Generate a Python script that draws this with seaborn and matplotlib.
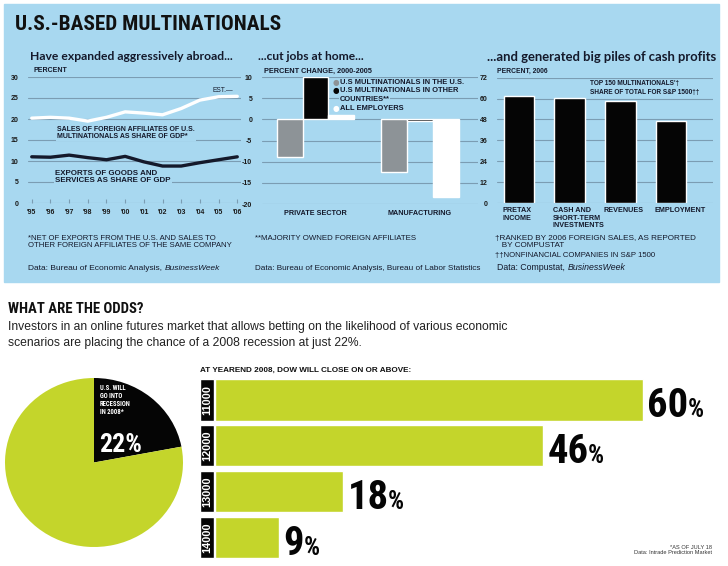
import seaborn as sns
import matplotlib.pyplot as plt
import matplotlib.patches as mpatches
import matplotlib.font_manager as fm
import pandas as pd

# ---- data ----
years = [1995, 1996, 1997, 1998, 1999, 2000, 2001, 2002, 2003, 2004, 2005, 2006]
year_labels = ["'95", "'96", "'97", "'98", "'99", "'00", "'01", "'02", "'03", "'04", "'05", "'06"]
sales_share = [20.2, 20.4, 20.2, 19.5, 20.4, 21.7, 21.4, 21.0, 22.5, 24.5, 25.3, 25.4]
exports_share = [11.0, 10.9, 11.4, 10.8, 10.3, 11.1, 9.8, 8.8, 8.8, 9.6, 10.3, 11.0]

job_sectors = ['PRIVATE SECTOR', 'MANUFACTURING']
job_groups = ['U.S MULTINATIONALS IN THE U.S.', 'U.S MULTINATIONALS IN OTHER\nCOUNTRIES**', 'ALL EMPLOYERS']
jobs_private = [-9.0, 9.9, 1.0]
jobs_manuf = [-12.5, -0.3, -18.3]

profit_cats = ['PRETAX\nINCOME', 'CASH AND\nSHORT-TERM\nINVESTMENTS', 'REVENUES', 'EMPLOYMENT']
profit_share = [61.6, 60.5, 58.8, 47.3]

recession_pct = [22, 78]
dow_levels = ['11000', '12000', '13000', '14000']
dow_odds = [60, 46, 18, 9]

# ---- style ----
BLUE = '#a8d8f0'
GRID = '#7b9db3'
LIME = '#c4d52b'
INK = '#14192b'


def weight_of(f):
    w = f.weight
    if isinstance(w, str):
        w = fm.weight_dict.get(w, 400)
    return w


def pick_font(bold):
    def narrow(f):
        n = f.name.lower()
        return 'narrow' in n or 'condensed' in n or str(f.stretch) in (
            'condensed', 'semi-condensed', 'extra-condensed', 'ultra-condensed')
    order = ['roboto condensed', 'liberation sans narrow', 'dejavu sans', 'noto sans', 'open sans']
    cands = [f for f in fm.fontManager.ttflist if narrow(f) and f.style == 'normal']
    if cands:
        def rank(f):
            n = f.name.lower()
            r = order.index(n) if n in order else len(order)
            return (r, abs(weight_of(f) - (700 if bold else 400)))
        return fm.FontProperties(fname=min(cands, key=rank).fname)
    return fm.FontProperties(family=['Roboto', 'DejaVu Sans'], weight='bold' if bold else 'normal')


COND_B = pick_font(True)
SANS_B = fm.FontProperties(family=['Liberation Sans', 'DejaVu Sans'], weight='bold')
SANS_R = fm.FontProperties(family=['Liberation Sans', 'DejaVu Sans'])
SANS_I = fm.FontProperties(family=['Liberation Sans', 'DejaVu Sans'], style='italic')
TITLE_B = fm.FontProperties(family=['Lato', 'DejaVu Sans'], weight='bold')
DOT = fm.FontProperties(family=['DejaVu Sans'])

sns.set_theme(style='white')
plt.rcParams['font.family'] = ['Liberation Sans', 'DejaVu Sans']

W, H = 728, 566
fig = plt.figure(figsize=(W / 100, H / 100), dpi=100)
renderer = fig.canvas.get_renderer()


def px_rect(x0, y0, x1, y1):
    return [x0 / W, 1 - y1 / H, (x1 - x0) / W, (y1 - y0) / H]


def fit(t, width):
    bb = t.get_window_extent(renderer)
    t.set_fontsize(t.get_fontsize() * width / bb.width)
    return t


def ftext(x, y, s, fp, size=6, width=None, **kw):
    kw.setdefault('va', 'center')
    t = fig.text(x / W, 1 - y / H, s, fontproperties=fp, **kw)
    t.set_fontsize(size)
    if width:
        fit(t, width)
    return t


def source_line(x, y, plain, italic, width):
    # regular words followed by an italic name, fitted to a total width
    t1 = ftext(x, y, plain, SANS_R, 5, color=INK)
    t2 = ftext(x, y, italic, SANS_I, 5, color=INK)
    gap = 0.28 * 5 * 100 / 72
    total = t1.get_window_extent(renderer).width + t2.get_window_extent(renderer).width + gap
    size = 5 * width / total
    t1.set_fontsize(size)
    t2.set_fontsize(size)
    x2 = x + t1.get_window_extent(renderer).width + 0.28 * size * 100 / 72
    t2.set_position((x2 / W, 1 - y / H))


def style_axis(ax, ticks):
    ax.set_facecolor('none')
    for s in ax.spines.values():
        s.set_visible(False)
    ax.set_yticks(ticks)
    ax.yaxis.grid(True, color=GRID, lw=0.8)
    ax.xaxis.grid(False)
    ax.set_axisbelow(True)
    ax.tick_params(axis='y', length=0, colors='#1a1a1a', pad=7)
    for t in ax.get_yticklabels():
        t.set_fontproperties(SANS_B)
        t.set_fontsize(5)
    ax.set_xlabel('')
    ax.set_ylabel('')


fig.add_artist(mpatches.Rectangle((4 / W, 1 - 282 / H), 715 / W, 278 / H,
                                  transform=fig.transFigure, color=BLUE, zorder=0))

ftext(15, 25, 'U.S.-BASED MULTINATIONALS', COND_B, 15, width=268, color='#111111')

# ---- chart 1: lines ----
ax1 = fig.add_axes(px_rect(28, 77, 241, 203))
sns.lineplot(x=years, y=sales_share, color='white', lw=2.4, ax=ax1)
sns.lineplot(x=years, y=exports_share, color=INK, lw=2.4, ax=ax1)
style_axis(ax1, [0, 5, 10, 15, 20, 25, 30])
ax1.set_xlim(1994.8, 2006.2)
ax1.set_ylim(0, 30)
ax1.set_xticks(years)
ax1.set_xticklabels(year_labels)
ax1.tick_params(axis='x', direction='in', length=3, width=0.8, color=GRID,
                labelcolor='#1a1a1a', pad=4, bottom=True)
for t in ax1.get_xticklabels():
    t.set_fontproperties(SANS_B)
    t.set_fontsize(5)
for ln in ax1.get_lines():
    ln.set_clip_on(False)
ftext(30, 57, 'Have expanded aggressively abroad...', TITLE_B, 8.5, width=202, color=INK)
ftext(33, 71, 'PERCENT', SANS_B, 5, width=34, color=INK)
box = dict(facecolor=BLUE, edgecolor='none', pad=1.5)
ftext(57, 133, 'SALES OF FOREIGN AFFILIATES OF U.S.\nMULTINATIONALS AS SHARE OF GDP*', SANS_B, 5,
      width=140, color=INK, linespacing=1.15, bbox=box)
ftext(55, 177, 'EXPORTS OF GOODS AND\nSERVICES AS SHARE OF GDP', SANS_B, 5,
      width=115, color=INK, linespacing=1.15, bbox=box)
ftext(212, 90, 'EST.\u2014', SANS_R, 5, width=21, color=INK)
ftext(28, 242, '*NET OF EXPORTS FROM THE U.S. AND SALES TO\nOTHER FOREIGN AFFILIATES OF THE SAME COMPANY',
      SANS_R, 5, width=210, color=INK, linespacing=1.0)
source_line(28, 268, 'Data: Bureau of Economic Analysis,', 'BusinessWeek', 195)

# ---- chart 2: grouped bars ----
jobs = pd.DataFrame({
    'sector': [s for s in job_sectors for _ in job_groups],
    'group': job_groups * 2,
    'change': jobs_private + jobs_manuf,
})
job_colors = ['#8d9397', '#050505', '#ffffff']
ax2 = fig.add_axes(px_rect(262, 77, 478, 204))
sns.barplot(data=jobs, x='sector', y='change', hue='group', palette=job_colors,
            width=0.74, saturation=1, legend=False, ax=ax2, zorder=2)
ax2.set_yticks([-20, -15, -10, -5, 0, 5, 10])
ax2.set_yticklabels(['-20', '-15', '-10', '-5', '0', '5', '10'])
style_axis(ax2, [-20, -15, -10, -5, 0, 5, 10])
ax2.set_ylim(-20, 10)
ax2.set_xlim(-0.512, 1.555)
ax2.tick_params(axis='x', length=0, pad=4)
for t in ax2.get_xticklabels():
    t.set_fontproperties(SANS_B)
    t.set_fontsize(5.2)
    t.set_color(INK)
ftext(258, 57, '...cut jobs at home...', TITLE_B, 8.5, width=105, color=INK)
ftext(264, 71, 'PERCENT CHANGE, 2000-2005', SANS_B, 5, width=110, color=INK)
leg_lines = []
for lab, col in zip(job_groups, job_colors):
    for k, part in enumerate(lab.split('\n')):
        leg_lines.append((part, col if k == 0 else None))
leg_size = None
for (part, col), yy in zip(leg_lines, [83, 91, 99.5, 108]):
    if col is not None:
        ftext(336, yy, '\u25cf', DOT, 5.5, color=col, ha='center')
    t = ftext(340, yy, part, SANS_B, 5, color=INK,
              bbox=dict(facecolor=BLUE, edgecolor='none', pad=0.8))
    if leg_size is None:
        fit(t, 124)
        leg_size = t.get_fontsize()
    t.set_fontsize(leg_size)
ftext(255, 238, '**MAJORITY OWNED FOREIGN AFFILIATES', SANS_R, 5, width=163, color=INK)
ftext(255, 268, 'Data: Bureau of Economic Analysis, Bureau of Labor Statistics', SANS_R, 5, width=230, color=INK)

# ---- chart 3: bars ----
ax3 = fig.add_axes(px_rect(497, 77.7, 713, 203))
sns.barplot(x=list(range(len(profit_cats))), y=profit_share, color='#050505', width=0.61,
            saturation=1, ax=ax3, zorder=2)
style_axis(ax3, [0, 12, 24, 36, 48, 60, 72])
ax3.set_ylim(0, 72)
ax3.set_xlim(-0.434, 3.83)
ax3.set_xticks([])
probe = ax3.text(0, 0, 'INVESTMENTS', fontproperties=SANS_B)
probe.set_fontsize(5)
fit(probe, 52)
cat_size = probe.get_fontsize()
probe.remove()
for i, lab in enumerate(profit_cats):
    t = ax3.text(i - 0.33, -0.035, lab, transform=ax3.get_xaxis_transform(), ha='left', va='top',
                 fontproperties=SANS_B, color=INK, linespacing=1.05)
    t.set_fontsize(cat_size)
ftext(487, 57, '...and generated big piles of cash profits', TITLE_B, 8.5, width=228, color=INK)
ftext(497, 71, 'PERCENT, 2006', SANS_B, 5, width=51, color=INK)
ftext(590, 88, "TOP 150 MULTINATIONALS'\u2020\nSHARE OF TOTAL FOR S&P 1500\u2020\u2020",
      SANS_B, 5, width=112, color=INK, linespacing=1.4)
ftext(495, 242, '\u2020RANKED BY 2006 FOREIGN SALES, AS REPORTED\n   BY COMPUSTAT',
      SANS_R, 5, width=207, color=INK, linespacing=1.0)
ftext(495, 256, '\u2020\u2020NONFINANCIAL COMPANIES IN S&P 1500', SANS_R, 5, width=165, color=INK)
source_line(497, 268, 'Data: Compustat,', 'BusinessWeek', 130)

# ---- bottom: what are the odds ----
ftext(8, 309, 'WHAT ARE THE ODDS?', COND_B, 16, width=136, color='#111111')
ftext(8, 335, 'Investors in an online futures market that allows betting on the likelihood of various economic\n'
      'scenarios are placing the chance of a 2008 recession at just 22%.',
      SANS_R, 8, width=505, color='#222222', linespacing=1.45)

axp = fig.add_axes(px_rect(5, 378, 183, 547))
axp.pie(recession_pct, colors=['#050505', LIME], startangle=90, counterclock=False,
        wedgeprops=dict(linewidth=0))
axp.set_aspect('auto')
axp.set_xlim(-1, 1)
axp.set_ylim(-1, 1)
axp.axis('off')
ftext(100, 400, 'U.S. WILL\nGO INTO\nRECESSION\nIN 2008*', COND_B, 5, width=31,
      color='white', linespacing=1.0)
ftext(99, 445, f'{recession_pct[0]}%', COND_B, 24, width=43, color='white')

axb = fig.add_axes(px_rect(200, 377, 728, 560.5))
sns.barplot(x=dow_odds, y=dow_levels, orient='h', color=LIME, width=0.9, saturation=1, ax=axb)
box_w = 1.96
axb.barh(range(len(dow_levels)), box_w, left=-2.1, height=0.9, color='#050505')
axb.set_xlim(-2.1, 71.9)
axb.set_ylim(len(dow_levels) - 0.5, -0.5)
axb.axis('off')
probe = axb.text(0, 0, '60', fontproperties=COND_B)
probe.set_fontsize(30)
fit(probe, 41)
num_size = probe.get_fontsize()
probe.remove()
probe = axb.text(0, 0, '11000', fontproperties=SANS_B)
probe.set_fontsize(7)
fit(probe, 30)
lev_size = probe.get_fontsize()
probe.remove()
for i, (lev, v) in enumerate(zip(dow_levels, dow_odds)):
    t = axb.text(-2.1 + box_w / 2, i, lev, rotation=90, ha='center', va='center', color='white',
                 fontproperties=SANS_B)
    t.set_fontsize(lev_size)
    num = axb.text(v + 0.6, i + 0.37, str(v), ha='left', va='baseline', fontproperties=COND_B,
                   color='#050505')
    num.set_fontsize(num_size)
    x1 = axb.transData.inverted().transform((num.get_window_extent(renderer).x1, 0))[0]
    pct = axb.text(x1 - 0.1, i + 0.37, '%', ha='left', va='baseline', fontproperties=COND_B,
                   color='#050505')
    pct.set_fontsize(num_size * 0.62)
ftext(200, 370, 'AT YEAREND 2008, DOW WILL CLOSE ON OR ABOVE:', SANS_B, 5, width=213, color='#111111')
ftext(712, 550, '*AS OF JULY 18\nData: Intrade Prediction Market', SANS_R, 5, width=80,
      color='#333333', ha='right', multialignment='right', linespacing=1.2)

fig.savefig('out.png', dpi=100)
